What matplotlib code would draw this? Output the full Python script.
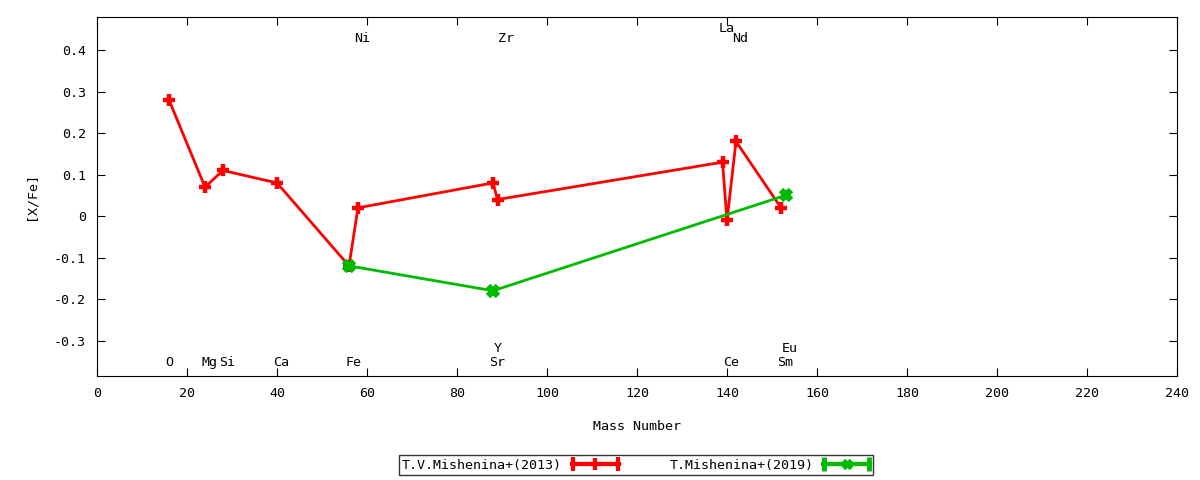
import numpy as np
import matplotlib
matplotlib.use("Agg")
import matplotlib.pyplot as plt
from matplotlib.legend_handler import HandlerErrorbar

# data
mass_2013 = [16, 24, 28, 40, 56, 58, 88, 89, 139, 140, 142, 152]
xfe_2013 = [0.28, 0.07, 0.11, 0.08, -0.12, 0.02, 0.08, 0.04, 0.13, -0.01, 0.18, 0.02]
mass_2019 = [56, 88, 153]
xfe_2019 = [-0.12, -0.18, 0.05]

elem_names = ['O', 'Mg', 'Si', 'Ca', 'Fe', 'Ni', 'Sr', 'Y', 'Zr', 'La', 'Ce', 'Nd', 'Sm', 'Eu']
elem_mass = [16, 24, 28, 40, 56, 58, 88, 89, 90, 139, 140, 142, 152, 153]
elem_ypos = [-0.354, -0.354, -0.354, -0.354, -0.354, 0.429, -0.354, -0.32, 0.429,
             0.453, -0.354, 0.429, -0.354, -0.32]

plt.rcParams['font.family'] = ['DejaVu Sans Mono']
fs = 9.6

fig = plt.figure(figsize=(12, 4.8), dpi=100)
ax = fig.add_axes([97/1200, 104/480, 1080/1200, 359/480])

ax.plot(mass_2013, xfe_2013, color='#ff0000', lw=2, marker='+', ms=9, mew=3.2, zorder=3)
ax.plot(mass_2019, xfe_2019, color='#00bb00', lw=2, marker='x', ms=7, mew=4.5, zorder=4)

for name, m, yp in zip(elem_names, elem_mass, elem_ypos):
    ax.text(m - 0.8, yp, name, ha='left', va='center', fontsize=fs)

# proxy handles so the legend samples look like gnuplot's
h1 = ax.errorbar([np.nan], [np.nan], xerr=[1], color='#ff0000', lw=3, marker='+',
                 ms=8, mew=3, capsize=5, capthick=3)
h2 = ax.errorbar([np.nan], [np.nan], xerr=[1], color='#00bb00', lw=3, marker='x',
                 ms=6, mew=3.5, capsize=5, capthick=3)

ax.set_xlim(0, 240)
ax.set_ylim(-0.3855, 0.48)
ax.set_xticks(np.arange(0, 241, 20))
ax.set_yticks([-0.3, -0.2, -0.1, 0, 0.1, 0.2, 0.3, 0.4])
ax.set_yticklabels(['-0.3', '-0.2', '-0.1', '0', '0.1', '0.2', '0.3', '0.4'])
ax.tick_params(direction='in', top=True, right=True, length=6, labelsize=fs, pad=8)
ax.set_xlabel('Mass Number', fontsize=fs, labelpad=14)
ax.set_ylabel('[X/Fe]', fontsize=fs, labelpad=12)

leg = fig.legend([h1, h2], ['T.V.Mishenina+(2013)', 'T.Mishenina+(2019)'],
                 loc='center', bbox_to_anchor=(636/1200, 1 - 465/480), ncol=2,
                 markerfirst=False, frameon=True, fancybox=False, edgecolor='black',
                 handlelength=3.5, handletextpad=0.75, columnspacing=3.8, borderpad=0.25,
                 fontsize=fs, handler_map={type(h1): HandlerErrorbar(xerr_size=1.7)})
leg.get_frame().set_linewidth(1)

fig.savefig('out.png', dpi=100)
